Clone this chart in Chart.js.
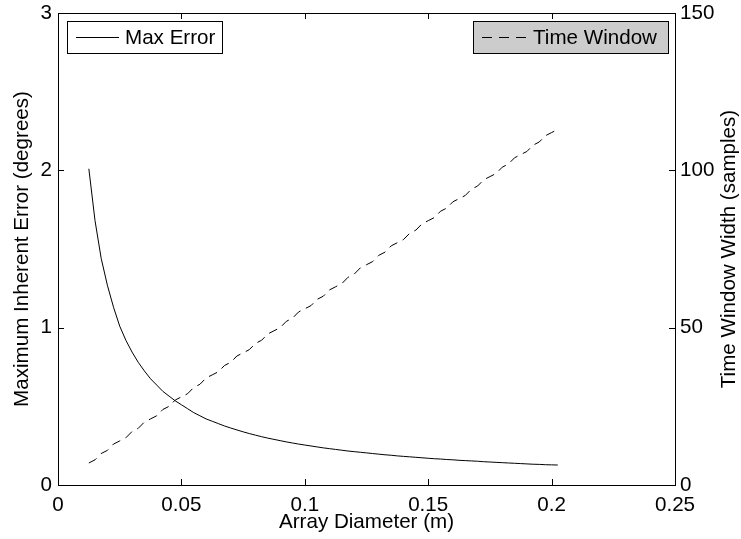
<!DOCTYPE html>
<html>
<head>
<meta charset="utf-8">
<script src="https://cdn.jsdelivr.net/npm/chart.js@4.4.1/dist/chart.umd.min.js"></script>
<style>
  html, body { margin: 0; padding: 0; background: #fff; }
  canvas { display: block; }
</style>
</head>
<body>
<canvas id="errChart" width="741" height="539"></canvas>
<script>
const diameters = [
  0.0125, 0.015, 0.0175, 0.02, 0.0225, 0.025, 0.0275, 0.03, 0.0325, 0.035,
  0.0375, 0.04, 0.0425, 0.045, 0.0475, 0.05, 0.0525, 0.055, 0.0575, 0.06,
  0.0625, 0.065, 0.0675, 0.07, 0.0725, 0.075, 0.0775, 0.08, 0.0825, 0.085,
  0.0875, 0.09, 0.0925, 0.095, 0.0975, 0.1, 0.1025, 0.105, 0.1075, 0.11,
  0.1125, 0.115, 0.1175, 0.12, 0.1225, 0.125, 0.1275, 0.13, 0.1325, 0.135,
  0.1375, 0.14, 0.1425, 0.145, 0.1475, 0.15, 0.1525, 0.155, 0.1575, 0.16,
  0.1625, 0.165, 0.1675, 0.17, 0.1725, 0.175, 0.1775, 0.18, 0.1825, 0.185,
  0.1875, 0.19, 0.1925, 0.195, 0.1975, 0.2, 0.2025
];
const maxError = [
  2.01, 1.68, 1.44, 1.27, 1.13, 1.01, 0.92, 0.845, 0.78, 0.725,
  0.675, 0.635, 0.595, 0.565, 0.535, 0.51, 0.485, 0.46, 0.44, 0.42,
  0.405, 0.39, 0.375, 0.362, 0.35, 0.338, 0.327, 0.317, 0.307, 0.298,
  0.29, 0.282, 0.274, 0.267, 0.26, 0.254, 0.248, 0.242, 0.236, 0.231,
  0.226, 0.221, 0.216, 0.212, 0.208, 0.204, 0.2, 0.196, 0.192, 0.189,
  0.185, 0.182, 0.179, 0.176, 0.173, 0.17, 0.167, 0.165, 0.162, 0.16,
  0.157, 0.155, 0.153, 0.151, 0.148, 0.146, 0.144, 0.142, 0.14, 0.138,
  0.136, 0.134, 0.132, 0.131, 0.129, 0.128, 0.127
];
const timeWindow = [
  7, 8, 10, 11, 13, 14, 15, 17, 18, 20,
  21, 22, 24, 25, 27, 28, 29, 31, 32, 34,
  35, 36, 38, 39, 41, 42, 43, 45, 46, 48,
  49, 50, 52, 53, 55, 56, 57, 59, 60, 62,
  63, 64, 66, 67, 69, 70, 71, 73, 74, 76,
  77, 78, 80, 81, 83, 84, 85, 87, 88, 90,
  91, 92, 94, 95, 97, 98, 99, 101, 102, 104,
  105, 106, 108, 109, 111, 112, 113
];
const leftTicks = [0, 1, 2, 3];
const rightTicks = [0, 50, 100, 150];
const xTicks = [0, 0.05, 0.1, 0.15, 0.2, 0.25];

const FONT = "'Liberation Sans', Arial, Helvetica, sans-serif";
const SIZE = 20.6;

// frame, inward ticks, right title, two legend boxes
const matlabLook = {
  id: "matlabLook",
  afterDraw(chart) {
    const { ctx, chartArea: a, scales } = chart;
    ctx.save();
    ctx.strokeStyle = "#000";
    ctx.lineWidth = 1;
    ctx.setLineDash([]);
    ctx.strokeRect(Math.round(a.left) + 0.5, Math.round(a.top) + 0.5,
      Math.round(a.right - a.left), Math.round(a.bottom - a.top));

    const len = 6;
    ctx.beginPath();
    xTicks.forEach((v) => {
      const px = Math.round(scales.x.getPixelForValue(v)) + 0.5;
      ctx.moveTo(px, a.bottom); ctx.lineTo(px, a.bottom - len);
      ctx.moveTo(px, a.top); ctx.lineTo(px, a.top + len);
    });
    leftTicks.forEach((v) => {
      const py = Math.round(scales.y.getPixelForValue(v)) + 0.5;
      ctx.moveTo(a.left, py); ctx.lineTo(a.left + len, py);
    });
    rightTicks.forEach((v) => {
      const py = Math.round(scales.y2.getPixelForValue(v)) + 0.5;
      ctx.moveTo(a.right, py); ctx.lineTo(a.right - len, py);
    });
    ctx.stroke();

    // right axis title, reading bottom to top
    ctx.save();
    ctx.translate(729, (a.top + a.bottom) / 2);
    ctx.rotate(-Math.PI / 2);
    ctx.fillStyle = "#000";
    ctx.font = SIZE + "px " + FONT;
    ctx.textAlign = "center";
    ctx.textBaseline = "middle";
    ctx.fillText(scales.y2.options.title.text, 0, 0);
    ctx.restore();

    // legends
    const ds = chart.data.datasets;
    const drawBox = (x, y, w, h, fill, dash, x0, x1, tx, label) => {
      ctx.fillStyle = fill;
      ctx.fillRect(x, y, w, h);
      ctx.setLineDash([]);
      ctx.strokeStyle = "#000";
      ctx.strokeRect(x + 0.5, y + 0.5, w, h);
      const cy = Math.round(y + h / 2) + 0.5;
      ctx.setLineDash(dash);
      ctx.beginPath();
      ctx.moveTo(x + x0, cy); ctx.lineTo(x + x1, cy);
      ctx.stroke();
      ctx.setLineDash([]);
      ctx.fillStyle = "#000";
      ctx.font = SIZE + "px " + FONT;
      ctx.textAlign = "left";
      ctx.textBaseline = "middle";
      ctx.fillText(label, x + tx, y + h / 2 + 1);
    };
    drawBox(67, 21, 155, 32, "#fff", [], 9, 52, 58, ds[0].label);
    drawBox(473, 21, 195, 32, "#cccccc", [10, 7], 9, 59, 60, ds[1].label);
    ctx.restore();
  },
};

const noOverflow = (s) => {
  s.paddingTop = 0;
  s.paddingBottom = 0;
};

new Chart(document.getElementById("errChart").getContext("2d"), {
  type: "line",
  data: {
    datasets: [
      {
        label: "Max Error",
        data: diameters.map((d, i) => ({ x: d, y: maxError[i] })),
        yAxisID: "y",
        borderColor: "#000",
        borderWidth: 1,
        pointRadius: 0,
        tension: 0,
        fill: false,
      },
      {
        label: "Time Window",
        data: diameters.map((d, i) => ({ x: d, y: timeWindow[i] })),
        yAxisID: "y2",
        borderColor: "#000",
        borderWidth: 1,
        borderDash: [9, 6],
        pointRadius: 0,
        tension: 0,
        fill: false,
      },
    ],
  },
  options: {
    responsive: false,
    animation: false,
    layout: { padding: { top: 13, left: 0, right: 0, bottom: 0 } },
    plugins: { legend: { display: false }, tooltip: { enabled: false } },
    scales: {
      x: {
        type: "linear",
        min: 0,
        max: 0.25,
        afterBuildTicks: (s) => { s.ticks = xTicks.map((v) => ({ value: v })); },
        afterFit: (s) => { s.height = 54; s.paddingLeft = 0; s.paddingRight = 0; },
        grid: { display: false, drawTicks: false },
        border: { display: false },
        ticks: {
          color: "#000",
          padding: 8,
          font: { family: FONT, size: SIZE },
          callback: (v) => String(Number(v.toFixed(2))),
        },
        title: {
          display: true,
          text: "Array Diameter (m)",
          color: "#000",
          font: { family: FONT, size: SIZE },
          padding: { top: 0, bottom: 4 },
        },
      },
      y: {
        type: "linear",
        position: "left",
        min: 0,
        max: 3,
        afterBuildTicks: (s) => { s.ticks = leftTicks.map((v) => ({ value: v })); },
        afterFit: (s) => { s.width = 58; noOverflow(s); },
        grid: { display: false, drawTicks: false },
        border: { display: false },
        ticks: { color: "#000", padding: 6, font: { family: FONT, size: SIZE } },
        title: {
          display: true,
          text: "Maximum Inherent Error (degrees)",
          color: "#000",
          font: { family: FONT, size: SIZE },
          padding: { top: 10, bottom: 0 },
        },
      },
      y2: {
        type: "linear",
        position: "right",
        min: 0,
        max: 150,
        afterBuildTicks: (s) => { s.ticks = rightTicks.map((v) => ({ value: v })); },
        afterFit: (s) => { s.width = 66; noOverflow(s); },
        grid: { display: false, drawTicks: false },
        border: { display: false },
        ticks: { color: "#000", padding: 5, font: { family: FONT, size: SIZE } },
        title: { display: false, text: "Time Window Width (samples)" },
      },
    },
  },
  plugins: [matlabLook],
});
</script>
</body>
</html>
